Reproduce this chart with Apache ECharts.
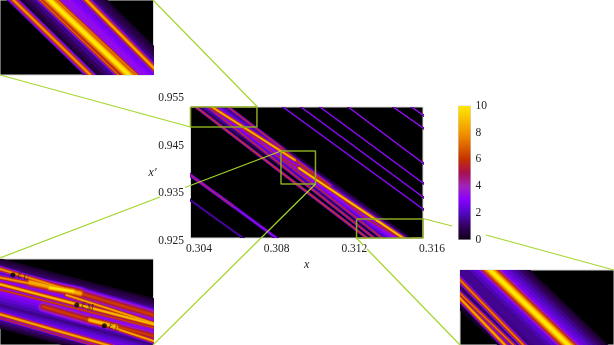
<!DOCTYPE html>
<html>
<head>
<meta charset="utf-8">
<style>html,body{margin:0;padding:0;background:#fff}#c{width:614px;height:345px}</style>
<script src="https://cdn.jsdelivr.net/npm/echarts@6/dist/echarts.min.js"></script>
</head>
<body>
<div id="c"></div>
<script>
// tick labels
const xTickLabels = ['0.304', '0.308', '0.312', '0.316'];
const yTickLabels = ['0.925', '0.935', '0.945', '0.955'];

// axis windows [xMin, xMax, yMin, yMax]
const mainWindow  = [0.304, 0.316, 0.925, 0.9525];
const topWindow   = [0.304, 0.30743, 0.9483, 0.9525];
const midWindow   = [0.30867, 0.31045, 0.93633, 0.94326];
const lowWindow   = [0.31257, 0.316, 0.925, 0.92898];

// main panel ridges: paths in (x, x') and peak densities
const mainPaths = [
  [[.31541,.9525],[.316,.9508]],
  [[.31446,.9525],[.316,.9481]],
  [[.31214,.9525],[.316,.94074]],
  [[.31068,.9525],[.316,.93654]],
  [[.3097,.9525],[.316,.9336]],
  [[.30877,.9525],[.316,.93108]],
  [[.304,.93816],[.30619,.93171]],
  [[.30619,.93171],[.30843,.925]],
  [[.304,.93291],[.30671,.925]],
  [[.30516,.9525],[.31455,.925]],
  [[.30428,.9525],[.31311,.925]],
  [[.3049,.9525],[.31347,.925]],
  [[.30526,.9525],[.31388,.925]],
  [[.30511,.9525],[.30939,.94137]],
  [[.30939,.94137],[.3112,.93591]],
  [[.30867,.942],[.3096,.93969]],
  [[.3096,.93969],[.31497,.925]],
  [[.30594,.9525],[.30872,.94389],[.31306,.92899],[.31486,.925]]
];
const mainPeaks  = [4.2,4.2,4.1,3.9,3.9,3.8,5.2,3.6,2,3.3,6.5,6.2,6,9,6.2,5.5,9.5,6];
const mainWidths = [1.6,1.6,1.6,1.6,1.6,1.6,3.8,3.8,2.4,20,3.2,3.2,3.2,6,6,4.5,6,3.2];

// top-left inset ridges
const topPaths = [
  [[.30542,.9525],[.30712,.9483]],
  [[.3043,.9525],[.30602,.9483]],
  [[.3049,.9525],[.30665,.9483]],
  [[.30511,.9525],[.30688,.9483]],
  [[.30527,.9525],[.30706,.9483]],
  [[.30593,.9525],[.30759,.9483]]
];
const topPeaks  = [3.3,8,7,10,7.5,8.5];
const topWidths = [62,10,7,20,7,10];

// lower-left inset ridges
const midPaths = [
  [[.30867,.94103],[.31045,.93781]],
  [[.30867,.93888],[.31045,.93566]],
  [[.30867,.94245],[.3096,.94049]],
  [[.30867,.94176],[.3096,.94049]],
  [[.30902,.94138],[.3096,.94049]],
  [[.30925,.94095],[.30952,.94065]],
  [[.3096,.94049],[.31045,.93875]],
  [[.30944,.94036],[.31045,.93808]],
  [[.30867,.94122],[.31045,.938]],
  [[.30867,.94079],[.31045,.93773]],
  [[.30917,.93942],[.30971,.93834]],
  [[.30971,.93834],[.31002,.93781]],
  [[.31002,.93781],[.31045,.93706]],
  [[.30995,.93781],[.31045,.93665]],
  [[.30867,.9388],[.30991,.93633]],
  [[.30867,.93848],[.30975,.93633]]
];
const midPeaks  = [3.3,2.5,8,8,8.5,10,6.2,8.5,9,6.5,6.2,9,6.2,8.5,8.5,5.5];
const midWidths = [55,30,8,8,16,12,16,7,8,5,16,12,14,7,8,4];

// lower-right inset ridges
const lowPaths = [
  [[.31257,.92898],[.31439,.925]],
  [[.31327,.92898],[.31501,.925]],
  [[.31324,.92898],[.31498,.925]],
  [[.31309,.92898],[.31487,.925]],
  [[.31257,.92845],[.31398,.925]],
  [[.31257,.92774],[.31376,.925]],
  [[.31257,.92748],[.31357,.925]]
];
const lowPeaks  = [1.5,3.3,10,6.5,7.5,7.5,8.5];
const lowWidths = [60,54,20,5,8,6,8];

// marked points in the lower-left inset
const markNames = ['U', 'M', 'L'];
const markX = [.30882, .30956, .30988];
const markY = [.94197, .93955, .93789];

// colour bar
const barValues = [10];
const colorValues = [0, 1, 2, 3, 4, 5, 6, 7, 8, 9, 10];
const colorHex = ['#100018','#33005f','#5208c4','#8a00ff','#a024b8','#a81050','#c43000','#dc6400','#f09400','#f8c000','#ffe800'];

const bandFractions = [0.08, 0.18, 0.3, 0.42, 0.55, 0.68, 0.8, 0.9, 1];
const bandWidths    = [1, 0.92, 0.82, 0.72, 0.6, 0.48, 0.36, 0.25, 0.16];
const GREEN = '#a4d52a', BOX = '#8aa822';

function hex(c){ return [1,3,5].map(i => parseInt(c.substr(i,2),16)); }
function colourOf(v){
  const t = Math.max(0, Math.min(10, v));
  const i = Math.min(colorValues.length - 2, Math.floor(t));
  const f = t - i, a = hex(colorHex[i]), b = hex(colorHex[i+1]);
  return 'rgb(' + a.map((q,k) => Math.round(q + (b[k]-q)*f)).join(',') + ')';
}

const grids = [], xAxes = [], yAxes = [], series = [];

function addPane(rect, win, name){
  const idx = grids.length;
  grids.push(Object.assign({show:true, backgroundColor:'#000', borderColor:'#d8d8d8', borderWidth:1}, rect));
  const base = {axisLine:{show:false}, axisTick:{show:false}, axisLabel:{show:false}, splitLine:{show:false}};
  const nameStyle = {fontFamily:'Liberation Serif', fontStyle:'italic', fontSize:12, color:'#222'};
  xAxes.push(Object.assign({type:'value', gridIndex:idx, min:win[0], max:win[1]}, base, name ? {
    name:name.x, nameLocation:'middle', nameGap:21, nameTextStyle:nameStyle} : {}));
  yAxes.push(Object.assign({type:'value', gridIndex:idx, min:win[2], max:win[3]}, base, name ? {
    name:name.y, nameLocation:'middle', nameGap:34, nameRotate:0, nameTextStyle:nameStyle} : {}));
  return idx;
}

// one custom series per pane: its rows refer to a ridge, a band level and a band width
function addRidges(idx, win, paths, peaks, widths){
  const rows = [];
  paths.forEach((p, r) => bandFractions.forEach((f, b) => {
    rows.push([r, peaks[r]*f, widths[r]*bandWidths[b]]);
  }));
  rows.sort((a,b) => a[1] - b[1]);
  const onEdge = pt => Math.abs(pt[0]-win[0])<1e-9 || Math.abs(pt[0]-win[1])<1e-9 || Math.abs(pt[1]-win[2])<1e-9 || Math.abs(pt[1]-win[3])<1e-9;
  series.push({
    type:'custom', xAxisIndex:idx, yAxisIndex:idx, silent:true, clip:true, z:2,
    encode:{x:-1, y:-1}, data:rows,
    renderItem:(params, api) => {
      const path = paths[api.value(0)], w = api.value(2);
      const pts = path.map(pt => api.coord(pt));
      const n = pts.length;
      const extend = (a, b) => {
        const dx = a[0]-b[0], dy = a[1]-b[1], d = Math.hypot(dx, dy) || 1;
        return [a[0]+dx/d*w, a[1]+dy/d*w];
      };
      if (onEdge(path[0])) pts[0] = extend(pts[0], pts[1]);
      if (onEdge(path[n-1])) pts[n-1] = extend(pts[n-1], pts[n-2]);
      return {type:'polyline', shape:{points:pts}, style:{fill:null, stroke:colourOf(api.value(1)), lineWidth:w, lineCap:'round', lineJoin:'round'}};
    }
  });
}
function boxPath(w){ return [[w[0],w[3]],[w[1],w[3]],[w[1],w[2]],[w[0],w[2]],[w[0],w[3]]]; }

const main = addPane({left:190.5, top:107, width:232.5, height:131}, mainWindow, {x:'x', y:'x\u2032'});
const top1 = addPane({left:-1, top:-1, width:154.5, height:76}, topWindow);
const mid1 = addPane({left:-1, top:259, width:154.5, height:87}, midWindow);
const low1 = addPane({left:460, top:270, width:155, height:76}, lowWindow);

addRidges(main, mainWindow, mainPaths, mainPeaks, mainWidths);
addRidges(top1, topWindow, topPaths, topPeaks, topWidths);
addRidges(mid1, midWindow, midPaths, midPeaks, midWidths);
addRidges(low1, lowWindow, lowPaths, lowPeaks, lowWidths);

[topWindow, midWindow, lowWindow].forEach(w => series.push({
  type:'line', xAxisIndex:main, yAxisIndex:main, data:boxPath(w), symbol:'none', silent:true, clip:false,
  lineStyle:{color:BOX, width:1.5}, z:5
}));

series.push({
  type:'scatter', xAxisIndex:mid1, yAxisIndex:mid1, symbolSize:5, silent:true, z:6,
  itemStyle:{color:'#000'},
  data: markNames.map((n,i) => ({value:[markX[i], markY[i]], name:n})),
  label:{show:true, position:'right', distance:2,
    formatter:p => '{e|\u03b5}{s|' + p.name + '}',
    rich:{
      e:{fontFamily:'Liberation Serif', fontStyle:'italic', fontSize:12, color:'#1a1a2a'},
      s:{fontFamily:'Liberation Serif', fontStyle:'italic', fontSize:8, color:'#1a1a2a', verticalAlign:'bottom', padding:[6,0,0,1]}
    }}
});

// tick label axes
const labelIdx = grids.length;
grids.push({left:199, top:98, width:233, height:143});
const tickText = {fontFamily:'Liberation Serif', fontSize:11.5, color:'#222', interval:0};
xAxes.push({type:'category', gridIndex:labelIdx, data:xTickLabels, boundaryGap:false,
  axisLine:{show:false}, axisTick:{show:false}, splitLine:{show:false}, axisLabel:Object.assign({margin:2, hideOverlap:false}, tickText)});
yAxes.push({type:'category', gridIndex:labelIdx, data:yTickLabels, boundaryGap:false,
  axisLine:{show:false}, axisTick:{show:false}, splitLine:{show:false}, axisLabel:Object.assign({margin:15, hideOverlap:false}, tickText)});

// colour bar
const barIdx = grids.length;
grids.push({left:458.5, top:106, width:12, height:133.5, show:true, borderColor:'#d8d8d8', borderWidth:1});
xAxes.push({type:'category', gridIndex:barIdx, data:['density'], axisLine:{show:false}, axisTick:{show:false}, axisLabel:{show:false}, splitLine:{show:false}});
yAxes.push({type:'value', gridIndex:barIdx, min:0, max:10, interval:2, position:'right',
  axisLine:{show:false}, axisTick:{show:false}, splitLine:{show:false},
  axisLabel:{margin:5, fontFamily:'Liberation Serif', fontSize:11.5, color:'#222'}});
series.push({type:'bar', xAxisIndex:barIdx, yAxisIndex:barIdx, data:barValues, barWidth:'100%', silent:true,
  itemStyle:{color:new echarts.graphic.LinearGradient(0,1,0,0, colorValues.map((v,i) => ({offset:v/10, color:colorHex[i]})))}});

// leader lines between the boxes and the insets
const leaders = [
  [[153,0],[257.5,107]],
  [[0,75],[190.5,127]],
  [[0,258],[160,197]],
  [[185,187.5],[281,151]],
  [[153,345],[315.5,184]],
  [[423,218.5],[452,226]],
  [[486,235],[614,270]],
  [[356.5,238],[363,245]],
  [[367,249],[460,345]]
];

const chart = echarts.init(document.getElementById('c'), null, {renderer:'canvas'});
chart.setOption({
  animation:false, backgroundColor:'#fff',
  grid:grids, xAxis:xAxes, yAxis:yAxes, series:series,
  graphic:{elements:leaders.map(l => ({
    type:'line', z:20, silent:true,
    shape:{x1:l[0][0], y1:l[0][1], x2:l[1][0], y2:l[1][1]},
    style:{stroke:GREEN, lineWidth:1.2}
  }))}
});
</script>
</body>
</html>
